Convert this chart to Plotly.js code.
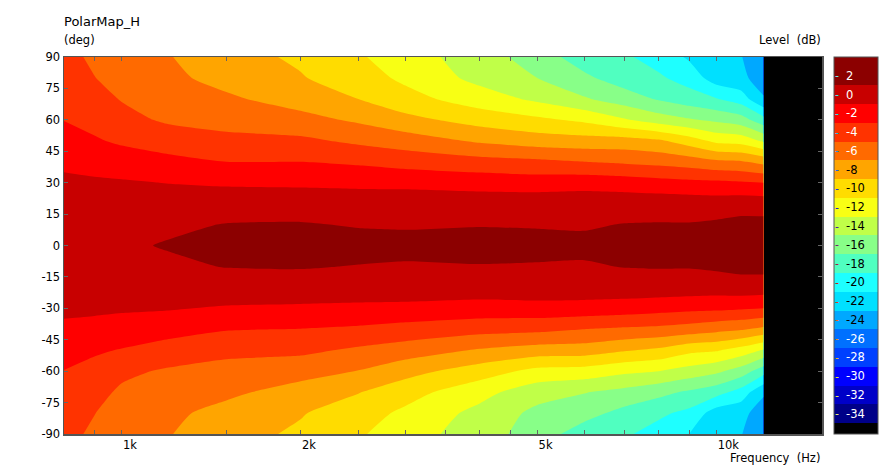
<!DOCTYPE html>
<html><head><meta charset="utf-8">
<script src="https://cdn.plot.ly/plotly-3.0.1.min.js"></script>
<style>html,body{margin:0;padding:0;background:#fff;} #chart{width:892px;height:469px;}</style>
</head><body><div id="chart"></div>
<script>
// ---- data ----
const frequencyHz = [800, 900, 1000, 1200, 1500, 2000, 2500, 3000, 4000, 5000, 6000, 7000, 8000, 9000, 10000, 11000, 12000];
const angleDeg = [-90, -80, -70, -60, -50, -40, -30, -20, -10, 0, 10, 20, 30, 40, 50, 60, 70, 80, 90];
// one row per frequency, values from -90 deg to +90 deg (dB)
const levelDbByFrequency = [
  [-4.3,-4.0,-3.5,-3.05,-2.2,-1.4,-0.6,-0.1,0.2, 0.4, 0.2,-0.1,-0.6,-1.4,-2.2,-3.05,-3.5,-4.0,-4.3],
  [-5.4,-4.95,-4.4,-3.6,-2.75,-1.7,-0.6,0.0,0.35, 0.6, 0.35,0.0,-0.7,-1.75,-2.8,-3.6,-4.35,-4.95,-5.4],
  [-6.4,-5.9,-5.3,-4.6,-3.1,-1.85,-0.75,0.0,0.5, 0.8, 0.5,0.0,-0.8,-2.0,-3.3,-4.4,-5.1,-5.8,-6.3],
  [-6.9,-6.6,-6.1,-5.25,-3.8,-2.3,-0.85,0.0,0.75, 1.1, 0.75,0.0,-1.05,-2.5,-3.9,-5.3,-6.1,-6.6,-6.9],
  [-8.2,-7.6,-6.6,-5.8,-4.4,-2.9,-1.2,0.3,1.05, 1.6, 1.05,0.3,-1.3,-3.0,-4.4,-5.8,-6.7,-7.6,-8.2],
  [-9.35,-8.85,-7.75,-6.3,-4.55,-3.05,-1.35,0.3,1.1, 1.6, 1.1,0.3,-1.4,-3.0,-4.6,-6.4,-7.8,-8.85,-9.35],
  [-10.75,-10.1,-8.9,-7.05,-5.35,-3.3,-1.5,0.3,0.95, 1.5, 0.9,0.3,-1.55,-3.3,-5.4,-7.3,-9.0,-10.1,-10.75],
  [-12.1,-11.4,-10.2,-8.3,-5.95,-3.75,-1.5,0.1,0.9, 1.3, 0.9,0.1,-1.5,-3.8,-6.0,-8.4,-10.3,-11.4,-12.1],
  [-14.0,-13.6,-12.3,-10.0,-7.2,-4.3,-1.8,0.1,0.95, 1.4, 0.95,0.1,-1.8,-4.3,-7.3,-9.8,-12.0,-13.6,-14.0],
  [-16.0,-15.5,-14.2,-11.6,-7.9,-4.5,-1.7,0.2,0.9, 1.4, 0.9,0.2,-2.0,-4.6,-8.0,-10.6,-13.4,-15.0,-16.0],
  [-18.0,-16.3,-14.9,-11.8,-8.0,-5.0,-1.8,0.2,0.85, 1.35, 0.85,0.2,-1.8,-5.0,-8.2,-11.4,-14.8,-16.6,-18.0],
  [-18.7,-17.6,-15.6,-12.6,-8.8,-5.3,-2.0,0.2,1.05, 1.6, 1.05,0.2,-2.0,-5.3,-8.2,-12.8,-16.0,-18.0,-18.7],
  [-19.8,-18.6,-16.4,-13.0,-9.4,-5.5,-2.3,0.2,1.1, 1.8, 1.1,0.2,-2.3,-5.6,-8.7,-14.0,-17.2,-18.7,-19.8],
  [-21.0,-19.5,-17.3,-13.8,-10.5,-5.9,-2.5,0.1,1.1, 1.9, 1.1,0.1,-2.5,-6.0,-10.0,-14.8,-18.1,-19.8,-21.3],
  [-22.9,-22.0,-18.2,-14.6,-10.8,-6.4,-2.6,0.0,1.3, 2.0, 1.3,0.0,-2.6,-6.6,-11.5,-15.4,-18.9,-22.0,-22.8],
  [-22.9,-22.4,-19.8,-15.9,-11.8,-6.8,-2.8,0.2,1.5, 2.1, 1.55,0.2,-2.8,-6.8,-11.8,-16.1,-20.0,-22.5,-22.9],
  [-24.6,-24.0,-22.7,-18.2,-13.2,-7.5,-3.0,0.1,1.55, 2.3, 1.6,0.1,-3.0,-7.6,-13.3,-18.3,-22.8,-24.0,-24.6]
];
const xTickValues = [900, 1000, 1500, 2000, 2500, 3000, 3500, 4000, 4500, 5000, 6000, 7000, 8000, 9000, 10000];
const xTickLabels = ['', '1k', '', '2k', '', '', '', '', '', '5k', '', '', '', '', '10k'];
const yTickValues = [-90, -75, -60, -45, -30, -15, 0, 15, 30, 45, 60, 75, 90];
const yTickLabels = ['-90', '-75', '-60', '-45', '-30', '-15', '0', '15', '30', '45', '60', '75', '90'];
const colorbarTickValues = [2, 0, -2, -4, -6, -8, -10, -12, -14, -16, -18, -20, -22, -24, -26, -28, -30, -32, -34];
const contourStart = -35, contourEnd = 1, contourStep = 2;
const colorbarMin = -36.15, colorbarMax = 4.0;

// ---- styles ----
const bandColors = ['#000000', '#000088', '#0000C8', '#0000FF', '#0040FF', '#0070FF', '#00A8FF', '#00E0FF',
  '#1EFFFF', '#50FFC0', '#88FF88', '#C0FF48', '#F8FF14', '#FFDC00', '#FFA500', '#FF6A00', '#FF3300',
  '#FF0000', '#C80000', '#8C0000'];
const darkBandValues = [2, 0, -2, -4, -6, -26, -28, -30, -32, -34];
const FONT = 'DejaVu Sans, Verdana, sans-serif';
const W = 892, H = 469;
const M = {l: 64, r: 70, t: 57, b: 35};
const plotW = W - M.l - M.r, plotH = H - M.t - M.b;
const xPaper = px => (px - M.l) / plotW;
const yPaper = py => (H - M.b - py) / plotH;
const vPaper = v => (v - colorbarMin) / (colorbarMax - colorbarMin);

const colorscale = bandColors.map((c, i) => [i / (bandColors.length - 1), c]);
function complement(hex) {
  const n = parseInt(hex.slice(1), 16);
  const r = 255 - ((n >> 16) & 255), g = 255 - ((n >> 8) & 255), b = 255 - (n & 255);
  return 'rgb(' + r + ',' + g + ',' + b + ')';
}

const trace = {
  type: 'contour',
  x: frequencyHz, y: angleDeg, z: levelDbByFrequency, transpose: true,
  autocontour: false,
  contours: {start: contourStart, end: contourEnd, size: contourStep, coloring: 'fill', showlines: false},
  line: {width: 0, smoothing: 0.6},
  colorscale: colorscale, zauto: false, zmin: colorbarMin, zmax: colorbarMax,
  hoverinfo: 'skip',
  colorbar: {
    x: xPaper(834), xanchor: 'left', xpad: 0, xref: 'paper',
    y: 0.5, yanchor: 'middle', ypad: 0, yref: 'paper',
    len: 1, lenmode: 'fraction', thickness: 44, thicknessmode: 'pixels',
    outlinewidth: 1, outlinecolor: '#555', borderwidth: 0,
    showticklabels: false, ticks: ''
  }
};

const annotations = [
  {text: 'PolarMap_H', x: xPaper(63), y: yPaper(21), xanchor: 'left', yanchor: 'middle', font: {size: 13}},
  {text: '(deg)', x: xPaper(63), y: yPaper(40), xanchor: 'left', yanchor: 'middle', font: {size: 11.5}},
  {text: 'Level\u00A0\u00A0(dB)', x: xPaper(822), y: yPaper(40), xanchor: 'right', yanchor: 'middle', font: {size: 11.5}},
  {text: 'Frequency\u00A0\u00A0(Hz)', x: xPaper(821), y: yPaper(458), xanchor: 'right', yanchor: 'middle', font: {size: 11.5}}
];
colorbarTickValues.forEach(v => {
  const idx = Math.round((v - contourStart) / contourStep + 0.5);
  annotations.push({text: String(v), x: xPaper(845), y: vPaper(v), xanchor: 'left', yanchor: 'middle',
    font: {size: 11.5, color: darkBandValues.includes(v) ? '#ffffff' : '#000000'}});
  annotations.push({text: '-', x: xPaper(834), y: vPaper(v), xanchor: 'left', yanchor: 'middle',
    font: {size: 11, color: complement(bandColors[idx])}});
});
annotations.forEach(a => { a.xref = 'paper'; a.yref = 'paper'; a.showarrow = false;
  a.font = Object.assign({family: FONT, color: '#000'}, a.font); a.borderpad = 0; });

const axisCommon = {
  showgrid: false, zeroline: false, showline: true, linecolor: '#555', linewidth: 1.5,
  mirror: 'ticks', ticks: 'inside', ticklen: 4, tickwidth: 1, tickcolor: '#666',
  tickfont: {family: FONT, size: 11.5, color: '#000'}
};

const layout = {
  width: W, height: H, margin: M,
  paper_bgcolor: '#ffffff', plot_bgcolor: '#000000',
  font: {family: FONT, color: '#000'},
  xaxis: Object.assign({}, axisCommon, {type: 'log', range: [Math.log10(800), Math.log10(15050)],
    tickmode: 'array', tickvals: xTickValues, ticktext: xTickLabels, ticklabelposition: 'outside right'}),
  yaxis: Object.assign({}, axisCommon, {range: [-90, 90], tickmode: 'array', tickvals: yTickValues, ticktext: yTickLabels}),
  annotations: annotations,
  showlegend: false
};

Plotly.newPlot('chart', [trace], layout, {staticPlot: true, displayModeBar: false});
</script>
</body></html>
